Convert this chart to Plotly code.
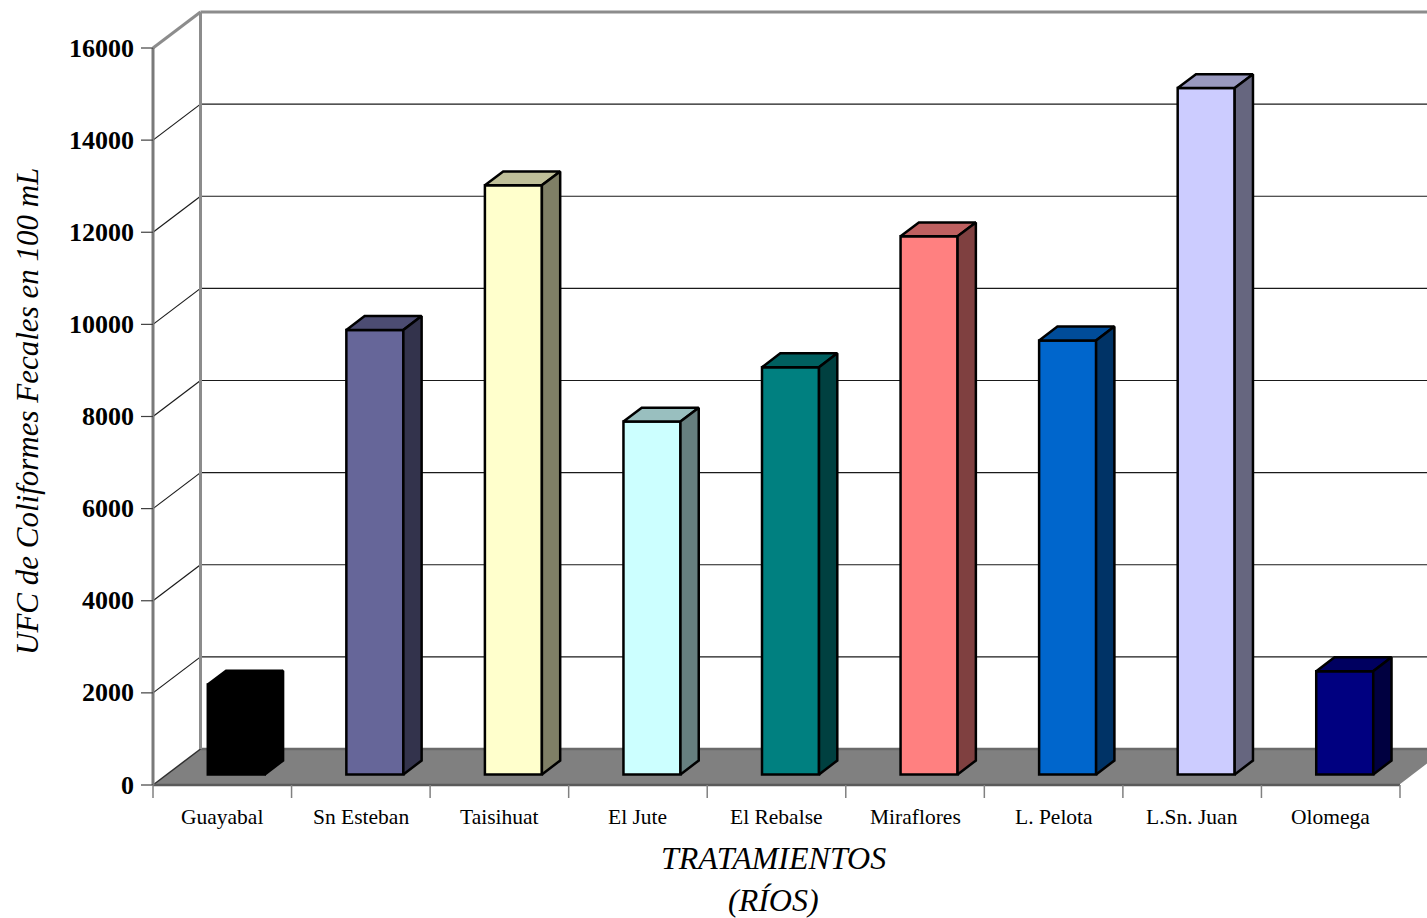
import plotly.graph_objects as go

# --- data -------------------------------------------------------------
rios = ["Guayabal", "Sn Esteban", "Taisihuat", "El Jute", "El Rebalse",
        "Miraflores", "L. Pelota", "L.Sn. Juan", "Olomega"]
ufc = [1950, 9650, 12790, 7660, 8840, 11680, 9420, 14900, 2240]
y_ticks = [0, 2000, 4000, 6000, 8000, 10000, 12000, 14000, 16000]

front_colors = ["#000000", "#666699", "#FFFFCC", "#CCFFFF", "#008080",
                "#FF8080", "#0066CC", "#CCCCFF", "#000080"]


# --- helpers ----------------------------------------------------------
def shade(hex_color, k):
    h = hex_color.lstrip("#")
    r, g, b = (int(h[i:i + 2], 16) for i in (0, 2, 4))
    return "#{:02X}{:02X}{:02X}".format(int(r * k), int(g * k), int(b * k))


W, H = 1427, 918
X0_PX, X9_PX = 153, 1400          # front edge of the category axis
Y0_PX, Y16_PX = 785, 48           # front plane: value 0 and 16000
PX_PER_CAT = (X9_PX - X0_PX) / 9
PX_PER_UNIT = (Y0_PX - Y16_PX) / 16000

x_range = [-X0_PX / PX_PER_CAT, (W - X0_PX) / PX_PER_CAT]
y_range = [-(H - Y0_PX) / PX_PER_UNIT, Y0_PX / PX_PER_UNIT]

# oblique depth offset of the 3-D box (per full depth)
DX = 47.5 / PX_PER_CAT
DY = 36.0 / PX_PER_UNIT
D0, D1 = 0.295, 0.68              # bar depth span
BAR_W = 57.0 / PX_PER_CAT
N = len(rios)
YMAX = y_ticks[-1]

shapes = []


def seg(x0, y0, x1, y1, color, width):
    shapes.append(dict(type="line", xref="x", yref="y", x0=x0, y0=y0,
                       x1=x1, y1=y1, layer="below",
                       line=dict(color=color, width=width)))


# floor
shapes.append(dict(type="path", xref="x", yref="y", layer="below",
                   path=f"M 0,0 L {N},0 L {N + DX},{DY} L {DX},{DY} Z",
                   fillcolor="#808080", line=dict(width=0)))
seg(DX, DY, N + DX, DY, "#6A6A6A", 2.5)
seg(0, 0, DX, DY, "#303030", 1.5)
seg(N, 0, N + DX, DY, "#FFFFFF", 1.5)

# gridlines on back wall and side wall
for v in y_ticks[1:-1]:
    seg(DX, v + DY, N + DX, v + DY, "#1A1A1A", 1.2)
    seg(0, v, DX, v + DY, "#1A1A1A", 1.2)

# wall frame
seg(DX, DY, DX, YMAX + DY, "#8C8C8C", 3)
seg(DX, YMAX + DY, N + DX, YMAX + DY, "#8C8C8C", 3)
seg(0, YMAX, DX, YMAX + DY, "#8C8C8C", 3)

# front axes
seg(0, 0, N, 0, "#5A5A5A", 2.5)
seg(0, 0, 0, YMAX, "#7A7A7A", 3)
for v in y_ticks:
    seg(-12 / PX_PER_CAT, v, 0, v, "#404040", 1.2)
for i in range(N + 1):
    seg(i, 0, i, -13 / PX_PER_UNIT, "#808080", 1.5)

# --- bars ---------------------------------------------------------------
fig = go.Figure()

base = D0 * DY
xc = [i + 0.5 + D0 * DX for i in range(N)]
fig.add_trace(go.Bar(
    x=xc, y=ufc, base=base, width=BAR_W,
    marker=dict(color=front_colors, line=dict(color="#000000", width=2.5)),
    hoverinfo="skip"))

ddx = (D1 - D0) * DX
ddy = (D1 - D0) * DY
for cx, val, col in zip(xc, ufc, front_colors):
    xl, xr = cx - BAR_W / 2, cx + BAR_W / 2
    top = val + base
    # top face
    fig.add_trace(go.Scatter(
        x=[xl, xr, xr + ddx, xl + ddx, xl],
        y=[top, top, top + ddy, top + ddy, top],
        mode="lines", fill="toself", fillcolor=shade(col, 0.75),
        line=dict(color="#000000", width=2.5), hoverinfo="skip"))
    # side face
    fig.add_trace(go.Scatter(
        x=[xr, xr, xr + ddx, xr + ddx, xr],
        y=[base, top, top + ddy, base + ddy, base],
        mode="lines", fill="toself", fillcolor=shade(col, 0.5),
        line=dict(color="#000000", width=2.5), hoverinfo="skip"))

# --- text ---------------------------------------------------------------
SERIF = "Liberation Serif, Times New Roman, serif"
annotations = []
for v in y_ticks:
    annotations.append(dict(x=0, y=v, xref="x", yref="y", text=f"<b>{v}</b>",
                            showarrow=False, xanchor="right", yanchor="middle",
                            xshift=-17, font=dict(family=SERIF, size=26, color="#000")))
for i, name in enumerate(rios):
    annotations.append(dict(x=i + 0.5, y=0, xref="x", yref="y", text=name,
                            showarrow=False, xanchor="center", yanchor="middle",
                            yshift=-32, font=dict(family=SERIF, size=21.5, color="#000")))

annotations += [
    dict(x=773 / W, y=1 - 858 / H, xref="paper", yref="paper",
         text="<i>TRATAMIENTOS</i>", showarrow=False,
         xanchor="center", yanchor="middle",
         font=dict(family=SERIF, size=32, color="#000")),
    dict(x=773 / W, y=1 - 900 / H, xref="paper", yref="paper",
         text="<i>(RÍOS)</i>", showarrow=False,
         xanchor="center", yanchor="middle",
         font=dict(family=SERIF, size=32, color="#000")),
    dict(x=27 / W, y=1 - 412 / H, xref="paper", yref="paper",
         text="<i>UFC de Coliformes Fecales en 100 mL</i>", showarrow=False,
         textangle=-90, xanchor="center", yanchor="middle",
         font=dict(family=SERIF, size=31, color="#000")),
]

fig.update_layout(
    width=W, height=H,
    margin=dict(l=0, r=0, t=0, b=0),
    paper_bgcolor="white", plot_bgcolor="white",
    showlegend=False, barmode="overlay",
    xaxis=dict(range=x_range, visible=False, fixedrange=True),
    yaxis=dict(range=y_range, visible=False, fixedrange=True),
    shapes=shapes, annotations=annotations,
)

fig.write_html("out.html")
